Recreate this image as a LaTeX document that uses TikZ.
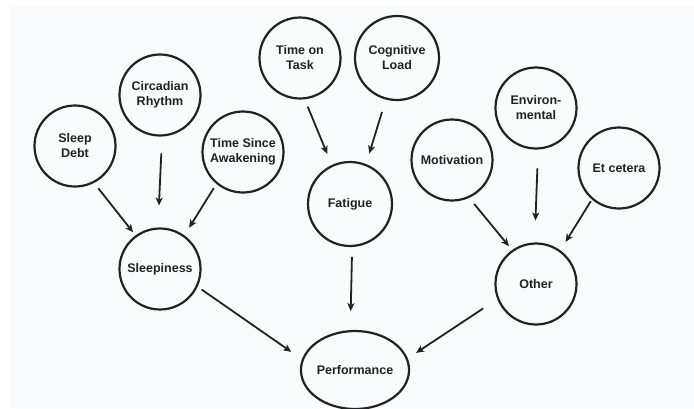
\documentclass[tikz,border=0pt]{standalone}
\usepackage{fontspec}
\setmainfont{Liberation Sans}
\usetikzlibrary{shapes.geometric,arrows.meta}

\definecolor{ink}{HTML}{222222}
\definecolor{paper}{HTML}{FAFBFC}

\tikzset{
  factor/.style={circle, draw=ink, line width=2.2pt, inner sep=0pt, outer sep=0pt,
    minimum size=#1, align=center, text=ink,
    font=\fontsize{12.5}{15}\selectfont\bfseries},
  factor/.default=81pt,
  outcome/.style={ellipse, draw=ink, line width=2.2pt, inner sep=0pt, outer sep=0pt,
    minimum width=106pt, minimum height=78pt, text=ink,
    font=\fontsize{12.5}{15}\selectfont\bfseries},
  link/.style={draw=ink, line width=1.8pt,
    -{Stealth[length=8pt,width=7pt,inset=2pt]}},
}

\begin{document}
\begin{tikzpicture}[x=1pt,y=-1pt]
  % canvas
  \fill[white] (0,0) rectangle (694,408);
  \fill[paper] (11,6) rectangle (694,408);
  \useasboundingbox (0,0) rectangle (694,408);

  % sleepiness branch
  \node[factor] (debt)  at (75,146)  {Sleep\\Debt};
  \node[factor] (circ)  at (160,95)  {Circadian\\Rhythm};
  \node[factor] (awake) at (243,152) {Time Since\\Awakening};
  \node[factor] (sleep) at (160,269) {Sleepiness};

  % fatigue branch
  \node[factor] (task)  at (300,58)  {Time on\\Task};
  \node[factor=84pt] (load) at (397,58) {Cognitive\\Load};
  \node[factor=84pt] (fatigue) at (350,204) {Fatigue};

  % other branch
  \node[factor] (motiv) at (452,160) {Motivation};
  \node[factor] (env)   at (536,108) {Environ-\\mental};
  \node[factor] (etc)   at (619,168) {Et cetera};
  \node[factor] (other) at (536,284) {Other};

  % outcome
  \node[outcome] (perf) at (355,370) {Performance};

  % connectors
  \draw[link, shorten <=8pt,  shorten >=5pt]  (debt.-63)   -- (sleep.126);
  \draw[link, shorten <=18pt, shorten >=23pt] (circ.-87)   -- (sleep.93);
  \draw[link, shorten <=6pt,  shorten >=10pt] (awake.230)  -- (sleep.54);

  \draw[link, shorten <=9pt,  shorten >=13pt] (task.-84)   -- (fatigue.115);
  \draw[link, shorten <=14pt, shorten >=12pt] (load.-105)  -- (fatigue.68);

  \draw[link, shorten <=9pt,  shorten >=6pt]  (motiv.-66)  -- (other.125);
  \draw[link, shorten <=20pt, shorten >=23pt] (env.-87)    -- (other.92);
  \draw[link, shorten <=3pt,  shorten >=11pt] (etc.229)    -- (other.54);

  \draw[link, shorten <=6pt,  shorten >=14pt] (sleep.-25)  -- (perf.169);
  \draw[link, shorten <=11pt, shorten >=20pt] (fatigue.-87) -- (perf.97);
  \draw[link, shorten <=18pt, shorten >=11pt] (other.201)  -- (perf.12);
\end{tikzpicture}
\end{document}
